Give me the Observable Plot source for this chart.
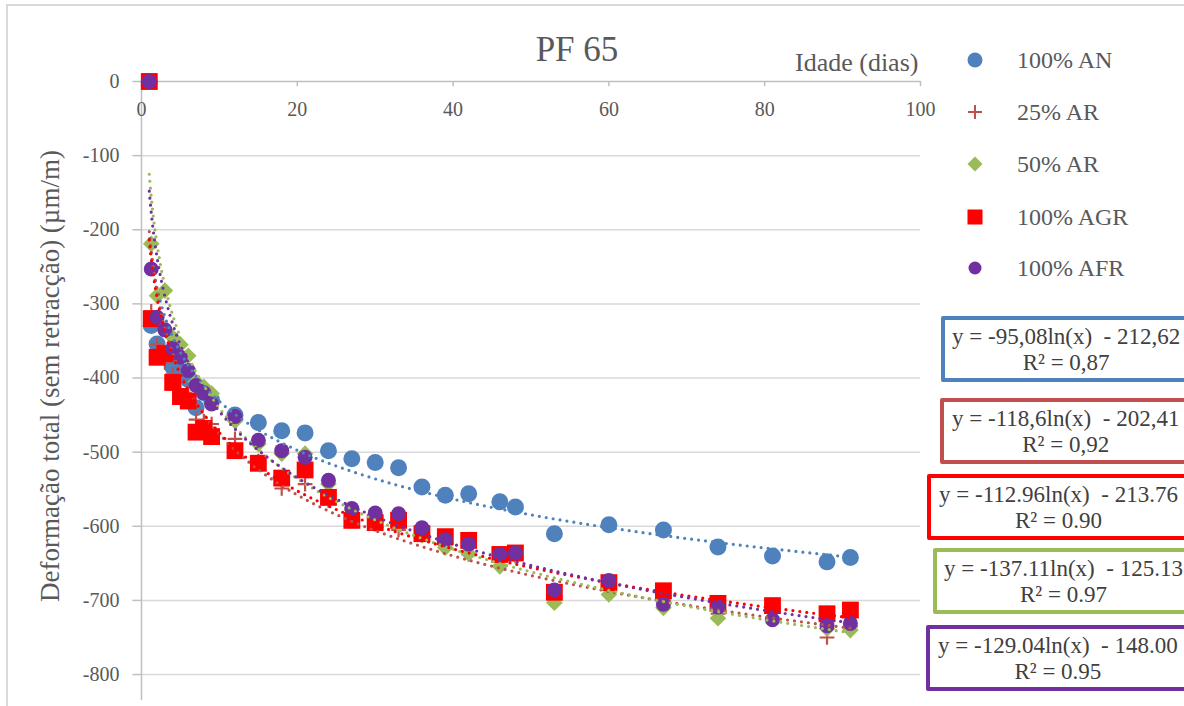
<!DOCTYPE html>
<html><head><meta charset="utf-8">
<script src="https://cdn.jsdelivr.net/npm/d3@7"></script>
<script src="https://cdn.jsdelivr.net/npm/@observablehq/plot@0.6"></script>
<style>
html,body{margin:0;padding:0;background:#fff;overflow:hidden;width:1184px;height:706px;}
#wrap{position:relative;width:1184px;height:706px;overflow:hidden;font-family:"Liberation Serif","Times New Roman",serif;color:#595959;}
#frame{position:absolute;left:6px;top:4px;width:1300px;height:800px;border-left:2px solid #d9d9d9;border-top:2px solid #d9d9d9;}
#chart{position:absolute;left:0;top:0;}
#title{position:absolute;left:577px;top:50px;transform:translate(-50%,-50%);font-size:35px;white-space:nowrap;}
#xtitle{position:absolute;left:795px;top:63px;transform:translateY(-50%);font-size:26px;white-space:nowrap;}
#ytitle{position:absolute;left:50px;top:376px;transform:translate(-50%,-50%) rotate(-90deg);font-size:27px;white-space:nowrap;}
.leg{position:absolute;left:0;height:0;}
.leg svg{position:absolute;left:965px;top:-10px;}
.leg span{position:absolute;left:1017px;top:0;transform:translateY(-50%);font-size:24px;white-space:nowrap;}
.eq{position:absolute;width:320px;height:58px;border-style:solid;border-width:4px;border-radius:2px;background:#fff;}
.eq .txt{position:absolute;top:4px;display:inline-block;text-align:center;font-size:23px;line-height:26px;color:#404040;white-space:pre;}
</style></head>
<body><div id="wrap"><div id="frame"></div><div id="chart"></div>
<div id="title">PF 65</div>
<div id="xtitle">Idade (dias)</div>
<div id="ytitle">Deformação total (sem retracção) (µm/m)</div>
</div>
<script>
// ---- data ----
const days = [1, 1.25, 2, 3, 4, 5, 6, 7, 8, 9, 12, 15, 18, 21, 24, 27, 30, 33, 36, 39, 42, 46, 48, 53, 60, 67, 74, 81, 88, 91];
const an100 = [0, -329, -354, -370, -385, -392, -402, -440, -420, -430, -450, -460, -471, -474, -498, -509, -514, -521, -547, -558, -556, -567, -574, -610, -598, -605, -628, -640, -648, -642];
const ar25 = [0, -310, -355, -379, -395, -415, -425, -456, -458, -462, -482, -512, -549, -543, -565, -590, -597, -605, -612, -625, -638, -645, -640, -690, -682, -700, -718, -716, -750, -735];
const ar50 = [0, -219, -289, -282, -345, -355, -370, -405, -412, -421, -458, -489, -502, -502, -543, -578, -587, -597, -612, -629, -637, -654, -640, -703, -692, -710, -724, -725, -738, -740];
const agr100 = [0, -320, -372, -367, -406, -425, -431, -473, -468, -479, -498, -515, -535, -524, -561, -592, -595, -592, -610, -614, -619, -638, -636, -689, -676, -687, -704, -707, -718, -713];
const afr100 = [0, -253, -318, -335, -360, -372, -390, -410, -420, -435, -452, -484, -498, -507, -538, -576, -582, -583, -602, -618, -624, -638, -636, -686, -673, -705, -709, -726, -734, -731];
const seriesNames = ["100% AN", "25% AR", "50% AR", "100% AGR", "100% AFR"];
const trendSlopes = [-95.08, -118.6, -137.11, -112.96, -129.04];
const trendIntercepts = [-212.62, -202.41, -125.13, -213.76, -148.00];
const eqLines = ["y = -95,08ln(x)  - 212,62", "y = -118,6ln(x)  - 202,41", "y = -112.96ln(x)  - 213.76", "y = -137.11ln(x)  - 125.13", "y = -129.04ln(x)  - 148.00"];
const r2Lines = ["R² = 0,87", "R² = 0,92", "R² = 0.90", "R² = 0.97", "R² = 0.95"];
const xTicks = [0, 20, 40, 60, 80, 100];
const yTicks = [0, -100, -200, -300, -400, -500, -600, -700, -800];

// ---- styles ----
const colors = ["#4f81bd", "#c0504d", "#9bbb59", "#ff0000", "#7030a0"];
const trendColors = ["#4f81bd", "#c0504d", "#9bbb59", "#ff0000", "#7030a0"];
const values = [an100, ar25, ar50, agr100, afr100];
const rows = values.map(v => days.map((d, i) => ({day: d, value: v[i]})));
const xs = d3.range(0, 401).map(i => Math.pow(91, i / 400));
const trends = trendSlopes.map((a, k) => xs.map(x => ({day: x, value: a * Math.log(x) + trendIntercepts[k]})));

const dotMarks = [
  Plot.dot(rows[0], {x: "day", y: "value", symbol: "circle", r: 8.5, fill: colors[0]}),
  Plot.dot(rows[1], {x: "day", y: "value", symbol: "plus", r: 4.8, stroke: colors[1], strokeWidth: 2.2}),
  Plot.dot(rows[2], {x: "day", y: "value", symbol: "diamond2", r: 7.5, fill: colors[2], stroke: "none"}),
  Plot.dot(rows[3], {x: "day", y: "value", symbol: "square", r: 9.5, fill: colors[3]}),
  Plot.dot(rows[4], {x: "day", y: "value", symbol: "circle", r: 7.5, fill: colors[4]})
];
const trendMarks = trends.map((t, k) => Plot.line(t, {x: "day", y: "value", stroke: trendColors[k], strokeWidth: 3.2, strokeDasharray: "0 7", strokeLinecap: "round"}));

const chart = Plot.plot({
  width: 1184, height: 706,
  marginLeft: 141, marginRight: 264, marginTop: 81, marginBottom: 6,
  x: {type: "linear", domain: [0, 100], axis: null},
  y: {type: "linear", domain: [-835, 0], axis: null},
  style: {fontFamily: "'Liberation Serif','Times New Roman',serif", fontSize: "20px", color: "#595959", background: "transparent", overflow: "visible"},
  marks: [
    Plot.ruleY(yTicks.filter(d => d !== 0), {stroke: "#d9d9d9", strokeWidth: 1.5}),
    Plot.ruleX([0], {stroke: "#bfbfbf", strokeWidth: 1.5}),
    Plot.ruleY([0], {stroke: "#bfbfbf", strokeWidth: 1.5}),
    Plot.ruleY(yTicks, {y: d => d, x1: -1.1, x2: 0, stroke: "#bfbfbf", strokeWidth: 1.5}),
    Plot.text(yTicks, {y: d => d, x: 0, dx: -22, text: d => String(d), textAnchor: "end", fill: "#595959", fontSize: 20}),
    Plot.ruleX(xTicks, {x: d => d, y1: 0, y2: -7, stroke: "#bfbfbf", strokeWidth: 1.5}),
    Plot.text(xTicks, {x: d => d, y: 0, dy: 28, text: d => String(d), fill: "#595959", fontSize: 20}),
    ...dotMarks,
    ...trendMarks
  ]
});
document.getElementById("chart").appendChild(chart);

// ---- legend ----
const wrap = document.getElementById("wrap");
const legY = [60, 112, 164, 217, 268];
const legSvg = [
  `<circle cx="10" cy="10" r="7.5" fill="${colors[0]}"/>`,
  `<path d="M3,10H17M10,3V17" stroke="${colors[1]}" stroke-width="2"/>`,
  `<path d="M10,2.5L17.5,10L10,17.5L2.5,10Z" fill="${colors[2]}"/>`,
  `<rect x="2.5" y="2.5" width="15" height="15" fill="${colors[3]}"/>`,
  `<circle cx="10" cy="10" r="6.5" fill="${colors[4]}"/>`
];
seriesNames.forEach((name, k) => {
  const d = document.createElement("div");
  d.className = "leg";
  d.style.top = legY[k] + "px";
  d.innerHTML = `<svg width="20" height="20">${legSvg[k]}</svg><span>${name}</span>`;
  wrap.appendChild(d);
});

// ---- equation boxes (order as in picture: AN, 25% AR, AGR, 50% AR, AFR) ----
const boxes = [
  {k: 0, left: 941, top: 316, tx: 7},
  {k: 1, left: 940, top: 398, tx: 8},
  {k: 3, left: 927, top: 474, tx: 8},
  {k: 2, left: 933, top: 548, tx: 7},
  {k: 4, left: 926, top: 625, tx: 8}
];
boxes.forEach((b, i) => {
  const d = document.createElement("div");
  d.className = "eq";
  d.style.left = b.left + "px";
  d.style.top = b.top + "px";
  d.style.borderColor = trendColors[b.k];
  d.innerHTML = `<div class="txt" style="left:${b.tx}px">${eqLines[i]}<br>${r2Lines[i]}</div>`;
  wrap.appendChild(d);
});
</script>
</body></html>
